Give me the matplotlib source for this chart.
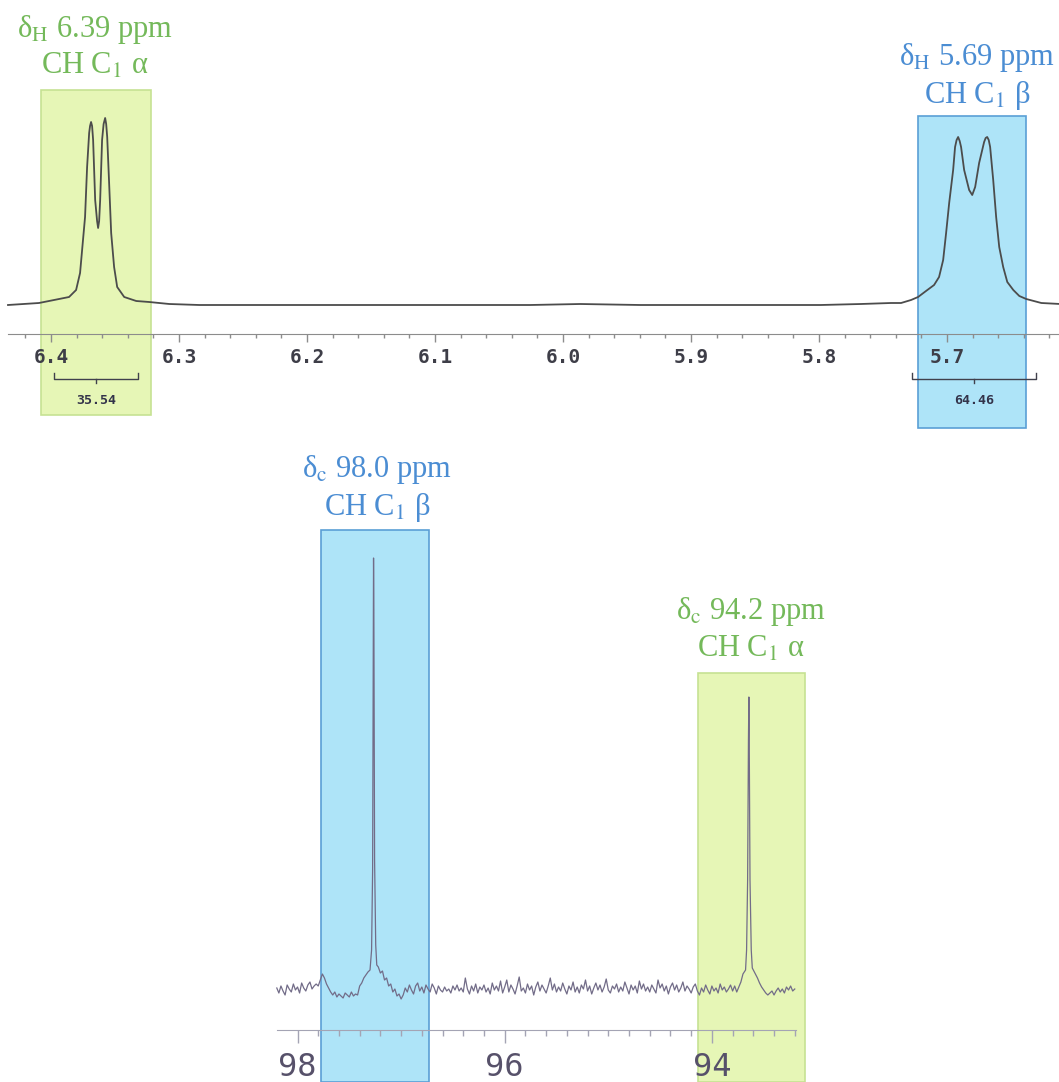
import numpy as np
import matplotlib
matplotlib.use('Agg')
import matplotlib.pyplot as plt
from matplotlib.patches import Rectangle
from matplotlib.ticker import MultipleLocator

plt.rcParams['font.family'] = ['Liberation Serif', 'DejaVu Serif']
plt.rcParams['mathtext.fontset'] = 'stix'

# 1H spectrum trace (ppm, intensity above axis)
h1_ppm = [6.4336, 6.4094, 6.3937, 6.3859, 6.3804, 6.3773, 6.3757, 6.3734, 6.3718,
          6.3702, 6.3695, 6.3687, 6.3679, 6.3671, 6.3655, 6.3640, 6.3632, 6.3624,
          6.3616, 6.3601, 6.3589, 6.3577, 6.3569, 6.3561, 6.3546, 6.3530, 6.3507,
          6.3483, 6.3428, 6.3334, 6.3233, 6.3076, 6.2841, 6.2371, 6.1823, 6.1275,
          6.0727, 6.0257, 5.9865, 5.9396, 5.8926, 5.8456, 5.7986, 5.7673, 5.7438,
          5.7359, 5.7281, 5.7226, 5.7164, 5.7101, 5.7062, 5.7030, 5.7007, 5.6983,
          5.6952, 5.6937, 5.6925, 5.6913, 5.6901, 5.6890, 5.6866, 5.6827, 5.6803,
          5.6780, 5.6749, 5.6710, 5.6698, 5.6686, 5.6674, 5.6663, 5.6639, 5.6616,
          5.6592, 5.6561, 5.6529, 5.6482, 5.6435, 5.6381, 5.6263, 5.6114]
h1_int = [29, 31, 35, 37, 44, 61, 84, 117, 167,
          201, 208, 212, 208, 194, 134, 113, 106, 113,
          134, 194, 210, 216, 210, 197, 151, 101, 67,
          47, 37, 33, 32, 30, 29, 29, 29, 29,
          29, 29, 30, 29, 29, 29, 29, 30, 31,
          31, 34, 37, 43, 49, 57, 74, 101, 131,
          164, 187, 194, 197, 193, 187, 164, 144, 139,
          147, 171, 192, 196, 197, 194, 187, 154, 117,
          87, 67, 52, 44, 38, 35, 31, 30]
h1_ticks = [6.4, 6.3, 6.2, 6.1, 6.0, 5.9, 5.8, 5.7]
h1_integrals = [(6.398, 6.332, '35.54'), (5.7273, 5.6305, '64.46')]

# 13C spectrum: baseline read every 0.02 ppm from 98.20, plus the two peaks
c13_grid_start, c13_grid_step = 98.20, 0.02
c13_noise = [42, 37, 44, 39, 35, 45, 41, 38, 46, 40, 43, 37, 47, 42, 39, 45, 48, 41, 44, 46,
             44, 50, 56, 52, 46, 42, 38, 35, 38, 33, 36, 34, 32, 37, 35, 33, 38, 34, 36, 35,
             44, 47, 52, 55, 58, 70, 70, 70, 70, 63, 57, 59, 50, 52, 44, 46, 38, 41, 34, 36,
             31, 35, 42, 38, 45, 40, 36, 44, 47, 39, 43, 37, 45, 41, 38, 46, 42, 36, 44, 40,
             38, 43, 39, 41, 37, 44, 40, 45, 39, 42, 38, 52, 41, 36, 44, 39, 46, 37, 43, 40,
             45, 38, 42, 36, 47, 40, 44, 39, 49, 37, 43, 50, 38, 45, 41, 36, 44, 53, 39, 42,
             37, 46, 40, 44, 35, 43, 48, 39, 45, 41, 37, 44, 52, 40, 46, 38, 43, 39, 47, 41,
             36, 44, 40, 48, 38, 43, 37, 45, 41, 50, 39, 44, 36, 42, 47, 40, 45, 38, 43, 51,
             40, 37, 44, 41, 46, 38, 43, 39, 48, 42, 36, 45, 40, 44, 37, 49, 41, 46, 39, 43,
             38, 45, 41, 37, 50, 42, 46, 39, 44, 36, 43, 47, 40, 45, 38, 42, 48, 39, 44, 41,
             37, 43, 46, 39, 35, 42, 38, 45, 40, 36, 44, 39, 42, 37, 46, 40, 43, 38, 41, 45,
             39, 44, 38, 43, 48, 56, 60, 60, 60, 60, 60, 56, 52, 47, 43, 40, 37, 35, 37, 39,
             35, 39, 42, 38, 41, 37, 43, 40, 44, 39, 41]
c13_beta_ppm = [97.300, 97.285, 97.275, 97.268, 97.266, 97.263, 97.256, 97.245, 97.235]
c13_beta_int = [60, 80, 160, 400, 472, 420, 170, 85, 65]
c13_alpha_ppm = [93.675, 93.665, 93.655, 93.647, 93.643, 93.640, 93.632, 93.620, 93.610]
c13_alpha_int = [60, 80, 150, 290, 333, 300, 150, 80, 62]
c13_ticks = [98, 96, 94]

# highlight boxes (ppm range, intensity range) and their captions
h1_boxes = [(6.408, 6.322, -81, 244, 'green',
             [r'δ$_{\mathrm{H}}$ 6.39 ppm', r'CH C$_{1}$ α'], 6.3656, [304, 268]),
            (5.723, 5.638, -94, 218, 'blue',
             [r'δ$_{\mathrm{H}}$ 5.69 ppm', r'CH C$_{1}$ β'], 5.6765, [277, 238])]
c13_boxes = [(97.778, 96.734, -52, 500, 'blue',
              [r'δ$_{\mathrm{c}}$ 98.0 ppm', r'CH C$_{1}$ β'], 97.23, [561, 523]),
             (94.135, 93.101, -52, 357, 'green',
              [r'δ$_{\mathrm{c}}$ 94.2 ppm', r'CH C$_{1}$ α'], 93.62, [419, 381])]

colors = {
    'green': ('#e6f6b6', '#c6e293', '#74b95a'),
    'blue': ('#aee4f8', '#5a9fd6', '#4b8dd3'),
}

W, H = 1059, 1082
fig = plt.figure(figsize=(W / 100, H / 100), dpi=100)


def px_axes(x0, x1, y_bottom, height):
    ax = fig.add_axes([x0 / W, 1 - y_bottom / H, (x1 - x0) / W, height / H])
    ax.set_facecolor('none')
    for side in ['top', 'left', 'right']:
        ax.spines[side].set_visible(False)
    ax.set_yticks([])
    return ax


def draw_boxes(ax, boxes):
    for x0, x1, y0, y1, key, lines, tx, tys in boxes:
        fill, edge, txt = colors[key]
        ax.add_patch(Rectangle((x0, y0), x1 - x0, y1 - y0, facecolor=fill,
                               edgecolor=edge, lw=1.2, zorder=0, clip_on=False))
        for s, ty in zip(lines, tys):
            ax.text(tx, ty, s, ha='center', va='center', fontsize=22,
                    color=txt, clip_on=False)


# ---- top: 1H ----
ax1 = px_axes(8, 1059, 334, 250)
ax1.set_xlim(6.4336, 5.6125)
ax1.set_ylim(0, 250)
draw_boxes(ax1, h1_boxes)
ax1.plot(h1_ppm, h1_int, color='#4c4c4c', lw=1.3, zorder=3, clip_on=False)
ax1.spines['bottom'].set_color('#8c8c8c')
ax1.set_xticks(h1_ticks, [f'{t:.1f}' for t in h1_ticks], fontfamily='DejaVu Sans Mono',
               fontweight='bold')
ax1.xaxis.set_minor_locator(MultipleLocator(0.02))
ax1.tick_params(axis='x', which='major', length=6, width=1, color='#8c8c8c',
                pad=4, labelsize=14, labelcolor='#3e3e48')
ax1.tick_params(axis='x', which='minor', length=3.2, width=1, color='#8c8c8c')

for a0, a1, lab in h1_integrals:
    y = -45
    mid = (a0 + a1) / 2
    ax1.plot([a0, a0, a1, a1], [y + 6, y, y, y + 6], color='#40404c', lw=1,
             clip_on=False)
    ax1.plot([mid, mid], [y, y - 4], color='#40404c', lw=1, clip_on=False)
    ax1.text(mid, y - 22, lab, ha='center', va='center', fontsize=9.5,
             fontfamily='DejaVu Sans Mono', fontweight='bold', color='#33334a')

# ---- bottom: 13C ----
ax2 = px_axes(277, 796, 1030, 500)
ax2.set_xlim(98.198, 93.188)
ax2.set_ylim(0, 500)
draw_boxes(ax2, c13_boxes)

grid_ppm = c13_grid_start - c13_grid_step * np.arange(len(c13_noise))
keep = ~(((grid_ppm > 97.23) & (grid_ppm < 97.31)) |
         ((grid_ppm > 93.605) & (grid_ppm < 93.685)))
c_ppm = np.concatenate([grid_ppm[keep], c13_beta_ppm, c13_alpha_ppm])
c_int = np.concatenate([np.array(c13_noise)[keep], c13_beta_int, c13_alpha_int])
order = np.argsort(-c_ppm)
ax2.plot(c_ppm[order], c_int[order], color='#726c88', lw=0.9, zorder=3, clip_on=False)

ax2.spines['bottom'].set_color('#a4a4b4')
ax2.set_xticks(c13_ticks, [str(t) for t in c13_ticks], fontfamily='DejaVu Sans Mono')
ax2.xaxis.set_minor_locator(MultipleLocator(0.2))
ax2.tick_params(axis='x', which='major', length=9, width=1, color='#a4a4b4',
                pad=7, labelsize=23, labelcolor='#57516a')
ax2.tick_params(axis='x', which='minor', length=4.5, width=1, color='#a4a4b4')

fig.savefig('out.png', dpi=100)
